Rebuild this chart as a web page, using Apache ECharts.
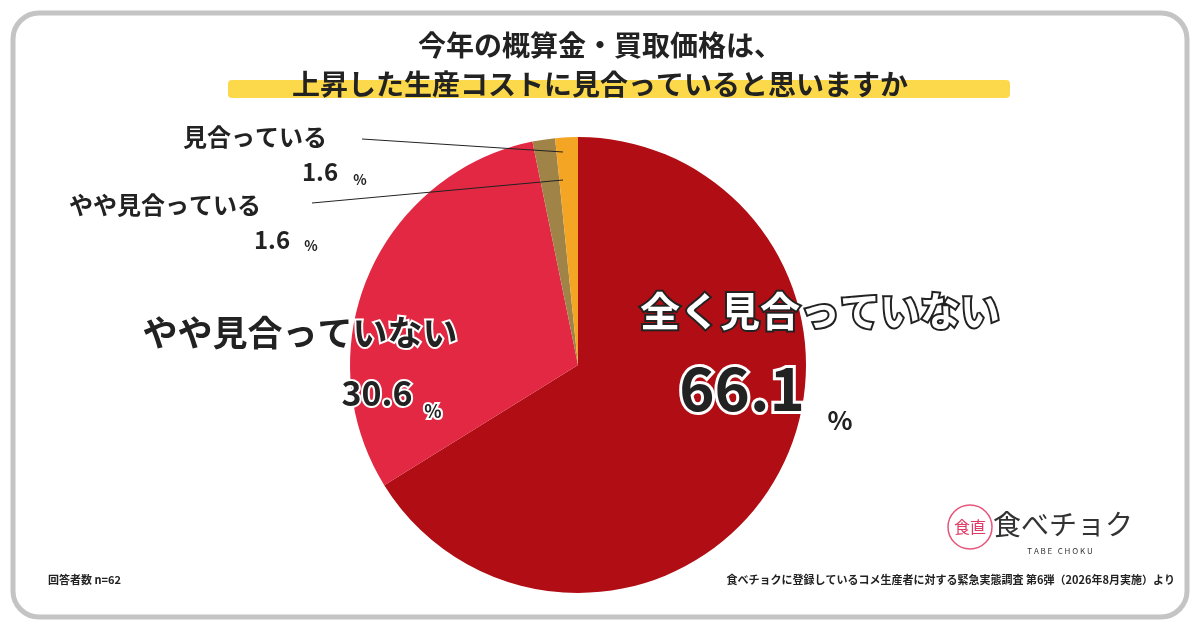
<!DOCTYPE html>
<html><head><meta charset="utf-8">
<script src="https://cdn.jsdelivr.net/npm/echarts@6/dist/echarts.min.js"></script>
<style>html,body{margin:0;background:#fff}#c{width:1200px;height:630px}</style></head>
<body><div id="c"></div>
<script>
const categories = ['全く見合っていない','やや見合っていない','やや見合っている','見合っている'];
const values = [66.1, 30.6, 1.6, 1.6];
const colors = ['#b00d14','#e32843','#a08447','#f5a524'];
const F = '"Noto Sans CJK JP","Noto Sans",sans-serif';
const chart = echarts.init(document.getElementById('c'));
function t(x,y,text,size,opt){return {type:'text',x:x,y:y,z:100,style:Object.assign({text:text,fontFamily:F,fontWeight:'bold',fontSize:size,fill:'#222',align:'center',verticalAlign:'middle'},opt||{})};}
const W = {stroke:'#fff',lineWidth:4};
chart.setOption({
  animation:false,
  series:[{type:'pie',center:[578,365],radius:[0,228],startAngle:90,clockwise:true,z:1,
    label:{show:false},labelLine:{show:false},silent:true,
    data:categories.map((c,i)=>({name:c,value:values[i],itemStyle:{color:colors[i]}}))}],
  graphic:[
    {type:'rect',shape:{x:13,y:13,width:1174,height:604,r:26},style:{fill:'none',stroke:'#c4c4c4',lineWidth:5},z:-1},
    {type:'rect',shape:{x:228,y:80,width:782,height:18,r:4},style:{fill:'#fcd94a'},z:0},
    t(600,45,'今年の概算金・買取価格は、',28),
    t(600,84,'上昇した生産コストに見合っていると思いますか',28),
    t(820,311,'全く見合っていない',40,{fill:'#fff',stroke:'#222',lineWidth:4}),
    t(742,388,'66.1',60,Object.assign({},W,{lineWidth:6})),
    t(840,420,'%',26,W),
    t(300,333,'やや見合っていない',35,W),
    t(377,393,'30.6',34,W),
    t(433,411,'%',18,W),
    t(255,137,'見合っている',24),
    t(320,172,'1.6',24),
    t(360,180,'%',14),
    t(165,205,'やや見合っている',24),
    t(272,240,'1.6',24),
    t(311,246,'%',14),
    {type:'line',shape:{x1:362,y1:139,x2:563,y2:152},style:{stroke:'#222',lineWidth:1},z:110},
    {type:'line',shape:{x1:312,y1:203,x2:563,y2:180},style:{stroke:'#222',lineWidth:1},z:110},
    t(48,580,'回答者数 n=62',11,{align:'left'}),
    t(1175,580,'食べチョクに登録しているコメ生産者に対する緊急実態調査 第6弾（2026年8月実施）より',11,{align:'right'}),
    {type:'circle',shape:{cx:970,cy:527,r:22},style:{fill:'none',stroke:'#e8557a',lineWidth:1.5},z:100},
    t(970,527,'食直',16,{fill:'#e03a64',fontWeight:'normal'}),
    t(1063,524,'食べチョク',28,{fill:'#333',fontWeight:'normal'}),
    t(1060,551,'T A B E   C H O K U',8,{fill:'#333',fontWeight:'normal'})
  ]
});
</script></body></html>
